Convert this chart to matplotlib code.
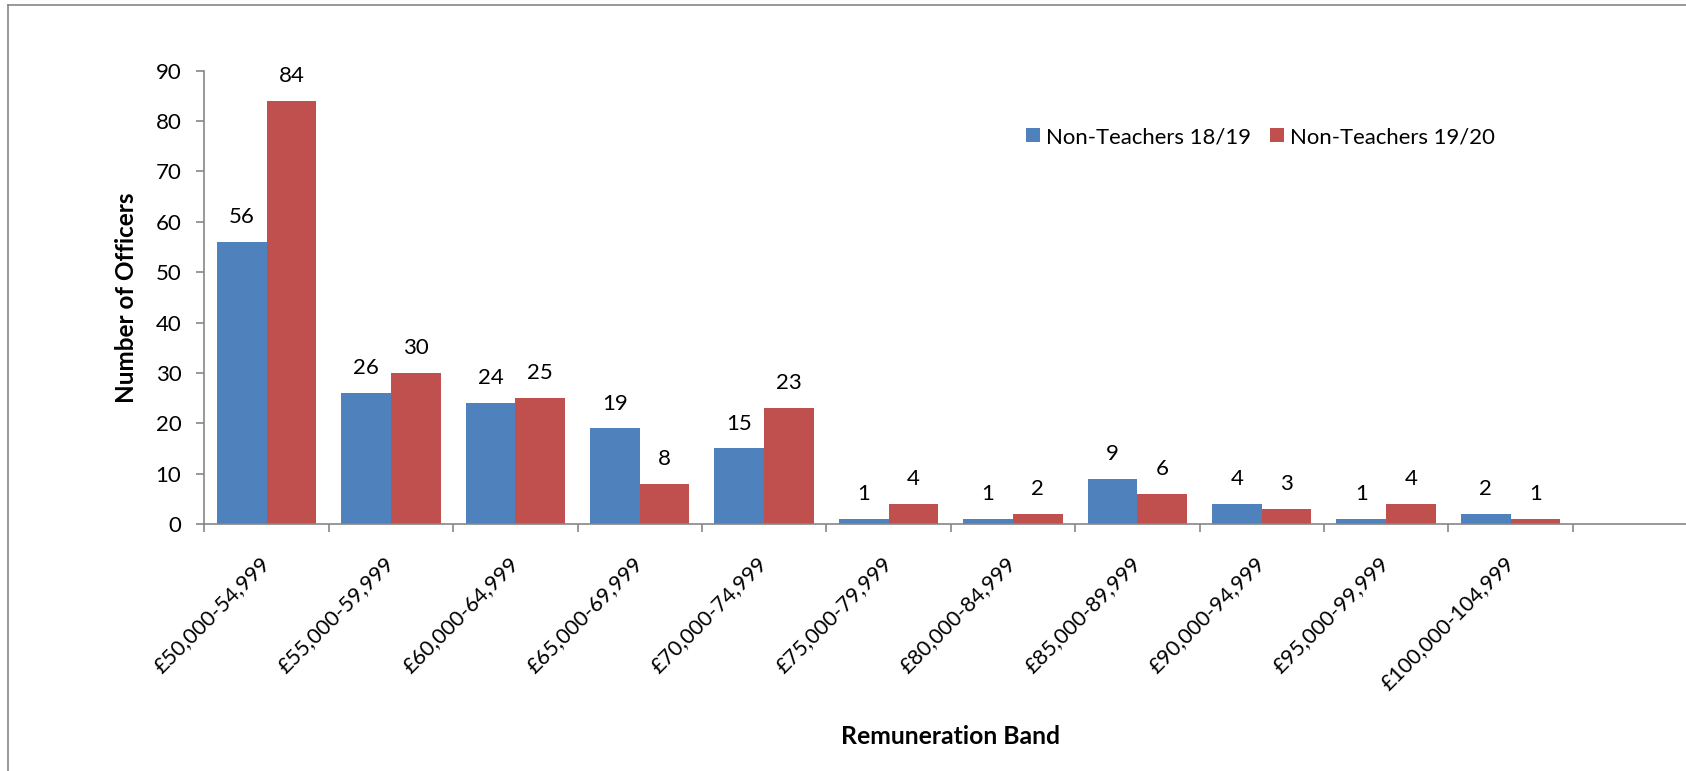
import matplotlib
matplotlib.use("Agg")
import matplotlib.pyplot as plt
from matplotlib.lines import Line2D
import numpy as np

plt.rcParams['font.family'] = ['Lato', 'DejaVu Sans']

bands = ["£50,000-54,999", "£55,000-59,999", "£60,000-64,999", "£65,000-69,999",
         "£70,000-74,999", "£75,000-79,999", "£80,000-84,999", "£85,000-89,999",
         "£90,000-94,999", "£95,000-99,999", "£100,000-104,999"]
nt_1819 = [56, 26, 24, 19, 15, 1, 1, 9, 4, 1, 2]
nt_1920 = [84, 30, 25, 8, 23, 4, 2, 6, 3, 4, 1]
series_names = ["Non-Teachers 18/19", "Non-Teachers 19/20"]
colors = ["#4F81BD", "#C0504D"]
grey = "#868686"

W, H = 1686, 771
fig = plt.figure(figsize=(W/100, H/100), dpi=100)
# axes: left edge at x=204, 12 category slots of ~124.4px, y0 at 524, y90 at 71
ax = fig.add_axes([204.3/W, (H-524)/H, 12*124.4/W, (524-70.7)/H])

x = np.arange(len(bands))
w = 0.4
b1 = ax.bar(x - w/2, nt_1819, w, color=colors[0], label=series_names[0])
b2 = ax.bar(x + w/2, nt_1920, w, color=colors[1], label=series_names[1])

for bars in (b1, b2):
    for r in bars:
        ax.annotate(f"{int(r.get_height())}", (r.get_x() + r.get_width()/2, r.get_height()),
                    xytext=(0, 13.5), textcoords="offset points",
                    ha="center", va="baseline", fontsize=16)

ax.set_xlim(-0.5, 11.5)
ax.set_ylim(0, 90)
ax.set_yticks(range(0, 91, 10))

ax.set_xticks(x)
ax.set_xticklabels(bands, rotation=45, ha="right", va="center", rotation_mode="anchor",
                   fontsize=15.5)
ax.set_xticks(np.arange(-0.5, 12, 1), minor=True)
ax.tick_params(axis="x", which="major", length=0, pad=26)
ax.tick_params(axis="x", which="minor", length=5.5, width=1.2, color=grey, direction="out")
ax.tick_params(axis="y", length=5.5, width=1.2, color=grey, direction="out",
               labelsize=16, pad=11)

for s in ["top", "right"]:
    ax.spines[s].set_visible(False)
for s in ["left", "bottom"]:
    ax.spines[s].set_color(grey)
    ax.spines[s].set_linewidth(1.2)

ax.set_ylabel("Number of Officers", fontsize=17.5, fontweight="bold")
ax.yaxis.set_label_coords((126-204.3)/(12*124.4), 0.5)
ax.yaxis.label.set_va("center")
ax.set_xlabel("Remuneration Band", fontsize=17.8, fontweight="bold")
ax.xaxis.set_label_coords(0.5, -(737-524)/(524-70.7))
ax.xaxis.label.set_va("center")

ax.legend(loc="center left", bbox_to_anchor=(1026/W, 1-137/H), bbox_transform=fig.transFigure,
          ncol=2, frameon=False, fontsize=15.9, handlelength=0.62, handleheight=0.62,
          handletextpad=0.3, columnspacing=0.85, borderpad=0, borderaxespad=0)

# outer chart frame (only left and top edges are visible)
fig.add_artist(Line2D([8.3/W, 8.3/W], [0, 1-5/H], color=grey, lw=1.2, transform=fig.transFigure))
fig.add_artist(Line2D([8.3/W, 1], [1-5/H, 1-5/H], color=grey, lw=1.2, transform=fig.transFigure))

fig.savefig("out.png", dpi=100)
